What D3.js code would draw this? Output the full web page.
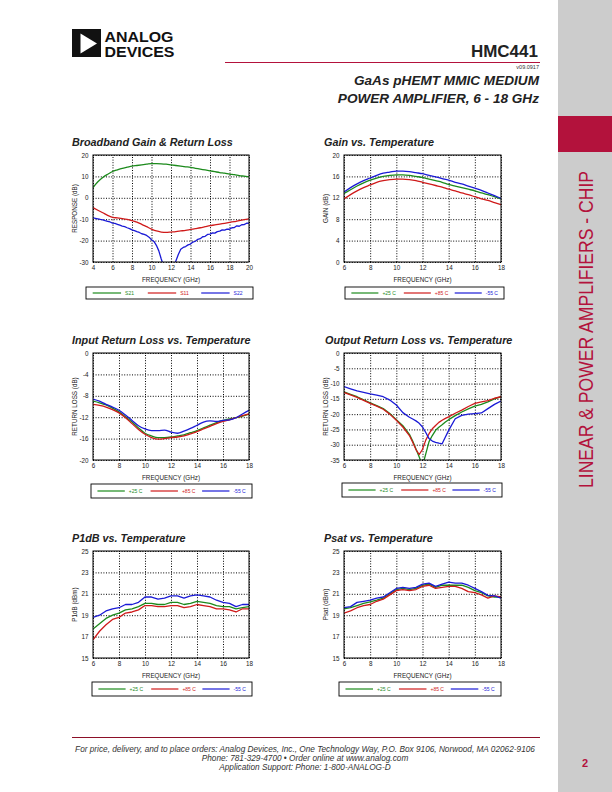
<!DOCTYPE html>
<html>
<head>
<meta charset="utf-8">
<script src="https://cdn.jsdelivr.net/npm/d3@7"></script>
<style>
  body { margin: 0; background: #fff; }
  svg { display: block; font-family: "Liberation Sans", Arial, sans-serif; }
</style>
</head>
<body>
<svg id="page" width="612" height="792"></svg>
<script>
// ---- data ----

// broadband gain & return loss
const bbFreq = [4,4.5,5,5.5,6,6.5,7,7.5,8,8.5,9,9.5,10,10.5,11,11.5,12,12.5,13,13.5,14,14.5,15,15.5,16,16.5,17,17.5,18,18.5,19,19.5,20]
const bbS21 = [4.8,7.5,9.5,11.0,12.3,13.1,13.8,14.3,14.8,15.1,15.4,15.7,16.0,16.0,15.9,15.7,15.4,15.1,14.8,14.5,14.2,13.8,13.4,13.0,12.6,12.2,11.8,11.5,11.1,10.8,10.4,10.1,9.8]
const bbS11 = [-4.6,-5.8,-7.0,-8.2,-9.1,-9.4,-9.7,-10.1,-10.7,-11.4,-12.4,-13.5,-14.6,-15.5,-16.0,-16.2,-16.0,-15.8,-15.5,-15.2,-14.8,-14.4,-14.0,-13.5,-13.0,-12.7,-12.3,-11.9,-11.5,-11.1,-10.7,-10.2,-9.8]
const s22Freq = [4,4.25,4.5,4.75,5,5.25,5.5,5.75,6,6.25,6.5,6.75,7,7.25,7.5,7.75,8,8.25,8.5,8.75,9,9.25,9.5,9.75,10,10.25,10.5,10.75,11,11.25,11.5,11.75,12,12.25,12.5,12.75,13,13.25,13.5,13.75,14,14.25,14.5,14.75,15,15.25,15.5,15.75,16,16.25,16.5,16.75,17,17.25,17.5,17.75,18,18.25,18.5,18.75,19,19.25,19.5,19.75,20]
const bbS22 = [-9.4,-9.6,-9.8,-10.1,-10.3,-10.7,-11.0,-11.3,-11.8,-12.0,-12.4,-12.8,-13.2,-13.5,-14.0,-14.4,-15.0,-15.3,-15.8,-16.2,-16.8,-17.1,-17.6,-18.4,-19.6,-20.4,-22.2,-24.8,-28.6,-32.0,-35.0,-37.0,-36.5,-33.5,-29.5,-26.5,-24.0,-23.2,-22.8,-22.0,-21.6,-20.7,-20.3,-19.4,-19.1,-18.2,-18.0,-17.1,-17.0,-16.4,-16.5,-15.8,-15.6,-15.0,-15.1,-14.6,-14.7,-14.0,-13.9,-13.1,-13.3,-12.6,-12.5,-11.9,-11.8]

// temperature plots, 6 - 18 GHz
const tempFreq = [6,6.5,7,7.5,8,8.5,9,9.5,10,10.5,11,11.5,12,12.5,13,13.5,14,14.5,15,15.5,16,16.5,17,17.5,18]

const gain25 = [12.8,13.5,14.2,14.8,15.3,15.7,16.0,16.2,16.3,16.3,16.2,16.0,15.8,15.5,15.2,14.9,14.5,14.2,13.9,13.6,13.3,12.9,12.6,12.2,11.8]
const gain85 = [11.8,12.6,13.3,13.9,14.4,14.9,15.2,15.4,15.5,15.5,15.4,15.2,14.9,14.6,14.3,14.0,13.6,13.3,12.9,12.6,12.2,11.8,11.5,11.1,10.7]
const gainM55 = [13.1,13.9,14.6,15.2,15.7,16.2,16.6,16.8,17.0,17.0,16.9,16.7,16.5,16.2,15.9,15.6,15.3,14.9,14.6,14.2,13.8,13.4,12.9,12.4,11.9]

const irl25 = [-9.0,-9.3,-9.7,-10.3,-11.0,-11.9,-12.9,-14.0,-15.0,-15.5,-15.8,-15.8,-15.7,-15.5,-15.3,-14.9,-14.5,-14.0,-13.5,-13.0,-12.6,-12.3,-12.1,-11.8,-11.4]
const irl85 = [-9.6,-9.8,-10.1,-10.6,-11.2,-12.1,-13.2,-14.3,-15.2,-15.8,-16.1,-16.0,-15.8,-15.7,-15.5,-15.1,-14.7,-14.2,-13.7,-13.2,-12.8,-12.5,-12.1,-11.7,-11.4]
const irlM55 = [-8.6,-9.0,-9.6,-10.1,-10.7,-11.6,-12.6,-13.6,-14.2,-14.5,-14.5,-14.4,-14.8,-15.0,-14.6,-14.1,-13.5,-12.9,-12.7,-12.8,-12.6,-12.5,-12.1,-11.4,-10.7]

const orlFreq = [6,6.5,7,7.5,8,8.5,9,9.5,10,10.5,11,11.25,11.5,11.75,12,12.25,12.5,12.75,13,13.25,13.5,13.75,14,14.5,15,15.5,16,16.5,17,17.5,18]
const orl25 = [-12.7,-13.5,-14.3,-15.3,-16.3,-17.2,-18.2,-19.8,-21.8,-23.8,-26.6,-28.8,-31.4,-34.0,-37.0,-33.0,-29.0,-27.0,-25.3,-24.3,-23.5,-22.6,-21.8,-20.5,-19.3,-18.3,-17.4,-16.8,-16.0,-15.0,-14.3]
const orl85 = [-12.9,-13.7,-14.5,-15.5,-16.5,-17.4,-18.4,-20.0,-22.0,-24.2,-27.0,-29.2,-31.6,-33.2,-31.5,-28.5,-26.4,-24.8,-23.7,-22.7,-22.0,-21.4,-20.9,-19.7,-18.7,-17.5,-16.5,-16.0,-15.6,-14.8,-14.3]
const orlM55 = [-11.0,-11.7,-12.4,-12.9,-13.4,-13.8,-14.3,-15.4,-17.0,-19.5,-21.0,-21.6,-22.2,-23.0,-24.2,-26.0,-28.0,-28.8,-29.2,-29.5,-29.7,-27.5,-25.3,-21.5,-20.4,-20.0,-19.8,-19.6,-18.2,-16.8,-15.7]

const p1db25 = [17.7,18.2,18.7,19.0,19.2,19.5,19.6,19.8,20.1,20.1,20.0,20.0,20.2,20.2,20.0,20.1,20.3,20.2,20.1,19.9,19.8,19.8,19.6,19.7,19.8]
const p1db85 = [16.7,17.5,18.1,18.6,18.8,19.2,19.3,19.5,19.9,19.9,19.8,19.8,19.9,19.9,19.7,19.8,20.0,19.9,19.8,19.6,19.6,19.5,19.3,19.6,19.6]
const p1dbM55 = [18.8,19.0,19.4,19.6,19.7,20.0,20.0,20.2,20.7,20.7,20.5,20.6,20.8,20.8,20.6,20.8,20.9,20.8,20.7,20.4,20.2,20.1,19.8,20.0,20.0]

const psat25 = [19.6,19.7,19.9,20.1,20.25,20.4,20.6,21.0,21.4,21.5,21.4,21.5,21.8,21.9,21.6,21.8,21.8,21.8,21.8,21.6,21.3,21.1,20.8,20.7,20.7]
const psat85 = [19.2,19.4,19.7,19.9,20.0,20.3,20.5,20.9,21.3,21.4,21.3,21.4,21.7,21.8,21.5,21.6,21.7,21.7,21.5,21.2,21.1,20.9,20.6,20.8,20.7]
const psatM55 = [19.7,19.8,20.2,20.3,20.4,20.6,20.7,21.1,21.5,21.6,21.5,21.6,21.9,22.0,21.7,21.9,22.1,22.0,22.0,21.8,21.5,21.2,20.85,20.8,20.6]

// ticks and legend labels
const bbXTicks = [4,6,8,10,12,14,16,18,20]
const tempXTicks = [6,8,10,12,14,16,18]
const bbYTicks = [-30,-20,-10,0,10,20]
const gainYTicks = [0,4,8,12,16,20]
const irlYTicks = [-20,-16,-12,-8,-4,0]
const orlYTicks = [-35,-30,-25,-20,-15,-10,-5,0]
const pwrYTicks = [15,17,19,21,23,25]
const sLabels = ['S21','S11','S22']
const tempLabels = ['+25 C','+85 C','-55 C']

const lineColors = ['#1c8a1c','#cf1a1a','#1a1ad6']
const adiRed = '#b3123c'

const page = d3.select('#page')

//header
page.append('rect').attr('x',72).attr('y',29).attr('width',29).attr('height',28).attr('fill','#111')
page.append('path').attr('d','M80.5,33.5 L97,43.5 L80.5,53.5 Z').attr('fill','#fff')
page.append('text').attr('x',104.5).attr('y',41.5).attr('font-size',15).attr('font-weight','bold')
    .attr('textLength',69).attr('lengthAdjust','spacingAndGlyphs').attr('fill','#111').text('ANALOG')
page.append('text').attr('x',104.5).attr('y',57).attr('font-size',15).attr('font-weight','bold')
    .attr('textLength',70).attr('lengthAdjust','spacingAndGlyphs').attr('fill','#111').text('DEVICES')

page.append('text').attr('x',538).attr('y',57).attr('text-anchor','end').attr('font-size',17)
    .attr('font-weight','bold').attr('fill','#222').text('HMC441')
page.append('line').attr('x1',225).attr('x2',540).attr('y1',62.5).attr('y2',62.5)
    .attr('stroke',adiRed).attr('stroke-width',1)
page.append('text').attr('x',539).attr('y',69).attr('text-anchor','end').attr('font-size',5.5)
    .attr('fill','#333').text('v09.0917')
page.append('text').attr('x',539).attr('y',85).attr('text-anchor','end').attr('font-size',13.6)
    .attr('font-weight','bold').attr('font-style','italic').attr('fill','#222').text('GaAs pHEMT MMIC MEDIUM')
page.append('text').attr('x',539).attr('y',103).attr('text-anchor','end').attr('font-size',13.6)
    .attr('font-weight','bold').attr('font-style','italic').attr('fill','#222').text('POWER AMPLIFIER, 6 - 18 GHz')

//side tab
page.append('rect').attr('x',558).attr('y',0).attr('width',54).attr('height',792).attr('fill','#cccccc')
page.append('rect').attr('x',558).attr('y',116).attr('width',54).attr('height',36).attr('fill',adiRed)
page.append('text').attr('transform','translate(592.5,329.5) rotate(-90)').attr('text-anchor','middle')
    .attr('font-size',19.5).attr('textLength',317).attr('lengthAdjust','spacingAndGlyphs')
    .attr('fill',adiRed).text('LINEAR & POWER AMPLIFIERS - CHIP')
page.append('text').attr('x',585).attr('y',767).attr('text-anchor','middle').attr('font-size',11)
    .attr('font-weight','bold').attr('fill',adiRed).text('2')

//footer
page.append('line').attr('x1',72).attr('x2',540).attr('y1',737.5).attr('y2',737.5)
    .attr('stroke','#8c1028').attr('stroke-width',1)
const footerLines = [
    'For price, delivery, and to place orders: Analog Devices, Inc., One Technology Way, P.O. Box 9106, Norwood, MA 02062-9106',
    'Phone: 781-329-4700 \u2022 Order online at www.analog.com',
    'Application Support: Phone: 1-800-ANALOG-D'
]
page.append('g').selectAll('text').data(footerLines).join('text')
    .attr('x',305).attr('y',(d,i) => 751.5 + i*9).attr('text-anchor','middle')
    .attr('font-size',8.25).attr('font-style','italic').attr('fill','#333').text(d => d)

//charts
const charts = [
    {title:'Broadband Gain & Return Loss', tx:72, left:93, right:249, top:155, bottom:262,
     xDomain:[4,20], xTicks:bbXTicks, yDomain:[-30,20], yTicks:bbYTicks, ylabel:'RESPONSE (dB)',
     legend:[86,287,167,12], labels:sLabels,
     series:[{x:bbFreq,y:bbS21},{x:bbFreq,y:bbS11},{x:s22Freq,y:bbS22,linear:true}]},
    {title:'Gain vs. Temperature', tx:324, left:344, right:501, top:155, bottom:262,
     xDomain:[6,18], xTicks:tempXTicks, yDomain:[0,20], yTicks:gainYTicks, ylabel:'GAIN (dB)',
     legend:[345,287,159,12], labels:tempLabels,
     series:[{x:tempFreq,y:gain25},{x:tempFreq,y:gain85},{x:tempFreq,y:gainM55}]},
    {title:'Input Return Loss vs. Temperature', tx:72, left:93, right:249, top:353, bottom:460,
     xDomain:[6,18], xTicks:tempXTicks, yDomain:[-20,0], yTicks:irlYTicks, ylabel:'RETURN LOSS (dB)',
     legend:[91,484,161,14], labels:tempLabels,
     series:[{x:tempFreq,y:irl25},{x:tempFreq,y:irl85},{x:tempFreq,y:irlM55}]},
    {title:'Output Return Loss vs. Temperature', tx:325, left:344, right:501, top:353, bottom:460,
     xDomain:[6,18], xTicks:tempXTicks, yDomain:[-35,0], yTicks:orlYTicks, ylabel:'RETURN LOSS (dB)',
     legend:[342,483,160,14], labels:tempLabels,
     series:[{x:orlFreq,y:orl25,linear:true},{x:orlFreq,y:orl85,linear:true},{x:orlFreq,y:orlM55,linear:true}]},
    {title:'P1dB vs. Temperature', tx:72, left:93, right:249, top:551, bottom:658,
     xDomain:[6,18], xTicks:tempXTicks, yDomain:[15,25], yTicks:pwrYTicks, ylabel:'P1dB (dBm)',
     legend:[92,682,160,14], labels:tempLabels,
     series:[{x:tempFreq,y:p1db25,linear:true},{x:tempFreq,y:p1db85,linear:true},{x:tempFreq,y:p1dbM55,linear:true}]},
    {title:'Psat vs. Temperature', tx:324, left:344, right:501, top:551, bottom:658,
     xDomain:[6,18], xTicks:tempXTicks, yDomain:[15,25], yTicks:pwrYTicks, ylabel:'Psat (dBm)',
     legend:[339,682,162,14], labels:tempLabels,
     series:[{x:tempFreq,y:psat25,linear:true},{x:tempFreq,y:psat85,linear:true},{x:tempFreq,y:psatM55,linear:true}]}
]

charts.forEach(drawChart)

function drawChart(c, idx){
    const g = page.append('g')
    const x = d3.scaleLinear().domain(c.xDomain).range([c.left, c.right])
    const y = d3.scaleLinear().domain(c.yDomain).range([c.bottom, c.top])
    const w = c.right - c.left, h = c.bottom - c.top

    g.append('text').attr('x',c.tx).attr('y',c.top - 9.5).attr('font-size',10.8)
        .attr('font-weight','bold').attr('font-style','italic').attr('fill','#222').text(c.title)

    //dotted grid
    const gx = g.append('g').attr('transform',`translate(0,${c.bottom})`)
        .call(d3.axisBottom(x).tickValues(c.xTicks).tickSize(-h).tickFormat(''))
    const gy = g.append('g').attr('transform',`translate(${c.left},0)`)
        .call(d3.axisLeft(y).tickValues(c.yTicks).tickSize(-w).tickFormat(''))
    ;[gx, gy].forEach(a => {
        a.select('.domain').remove()
        a.selectAll('line').attr('stroke','#000').attr('stroke-width',1).attr('stroke-dasharray','1,1.6')
    })

    //tick labels
    const lx = g.append('g').attr('transform',`translate(0,${c.bottom})`)
        .call(d3.axisBottom(x).tickValues(c.xTicks).tickSize(0).tickPadding(4).tickFormat(d => String(d)))
    const ly = g.append('g').attr('transform',`translate(${c.left},0)`)
        .call(d3.axisLeft(y).tickValues(c.yTicks).tickSize(0).tickPadding(4.5).tickFormat(d => String(d)))
    ;[lx, ly].forEach(a => {
        a.select('.domain').remove()
        a.selectAll('text').attr('font-size',6.3).attr('fill','#222')
            .attr('font-family','"Liberation Sans", Arial, sans-serif')
    })

    g.append('text').attr('x',(c.left + c.right)/2).attr('y',c.bottom + 19.5).attr('text-anchor','middle')
        .attr('font-size',6.3).attr('fill','#222').text('FREQUENCY (GHz)')
    g.append('text').attr('transform',`translate(${c.left - 16.5},${(c.top + c.bottom)/2}) rotate(-90)`)
        .attr('text-anchor','middle').attr('font-size',6.3).attr('fill','#222').text(c.ylabel)

    //clip + data lines
    const clipId = 'clip' + idx
    g.append('clipPath').attr('id',clipId).append('rect')
        .attr('x',c.left).attr('y',c.top).attr('width',w).attr('height',h)
    const plot = g.append('g').attr('clip-path',`url(#${clipId})`)
    c.series.forEach((s, i) => {
        const pts = s.x.map((f, k) => [f, s.y[k]])
        const line = d3.line().x(d => x(d[0])).y(d => y(d[1]))
            .curve(s.linear ? d3.curveLinear : d3.curveMonotoneX)
        plot.append('path').datum(pts).attr('d',line).attr('fill','none')
            .attr('stroke',lineColors[i]).attr('stroke-width',1.3).attr('stroke-linejoin','round')
    })

    //frame
    g.append('rect').attr('x',c.left).attr('y',c.top).attr('width',w).attr('height',h)
        .attr('fill','none').attr('stroke','#000').attr('stroke-width',1)

    //legend
    const [bx, by, bw, bh] = c.legend
    g.append('rect').attr('x',bx).attr('y',by).attr('width',bw).attr('height',bh)
        .attr('fill','#fff').attr('stroke','#000').attr('stroke-width',0.9)
    const starts = [0.04, 0.37, 0.69]
    const items = g.append('g').selectAll('g').data(c.labels).join('g')
        .attr('transform',(d,i) => `translate(${bx + bw*starts[i]},${by + bh/2})`)
    items.append('line').attr('x1',0).attr('x2',bw*0.17).attr('stroke',(d,i) => lineColors[i]).attr('stroke-width',1.2)
    items.append('text').attr('x',bw*0.17 + 4).attr('y',1.8).attr('font-size',5)
        .attr('fill',(d,i) => lineColors[i]).text(d => d)
}
</script>
</body>
</html>
